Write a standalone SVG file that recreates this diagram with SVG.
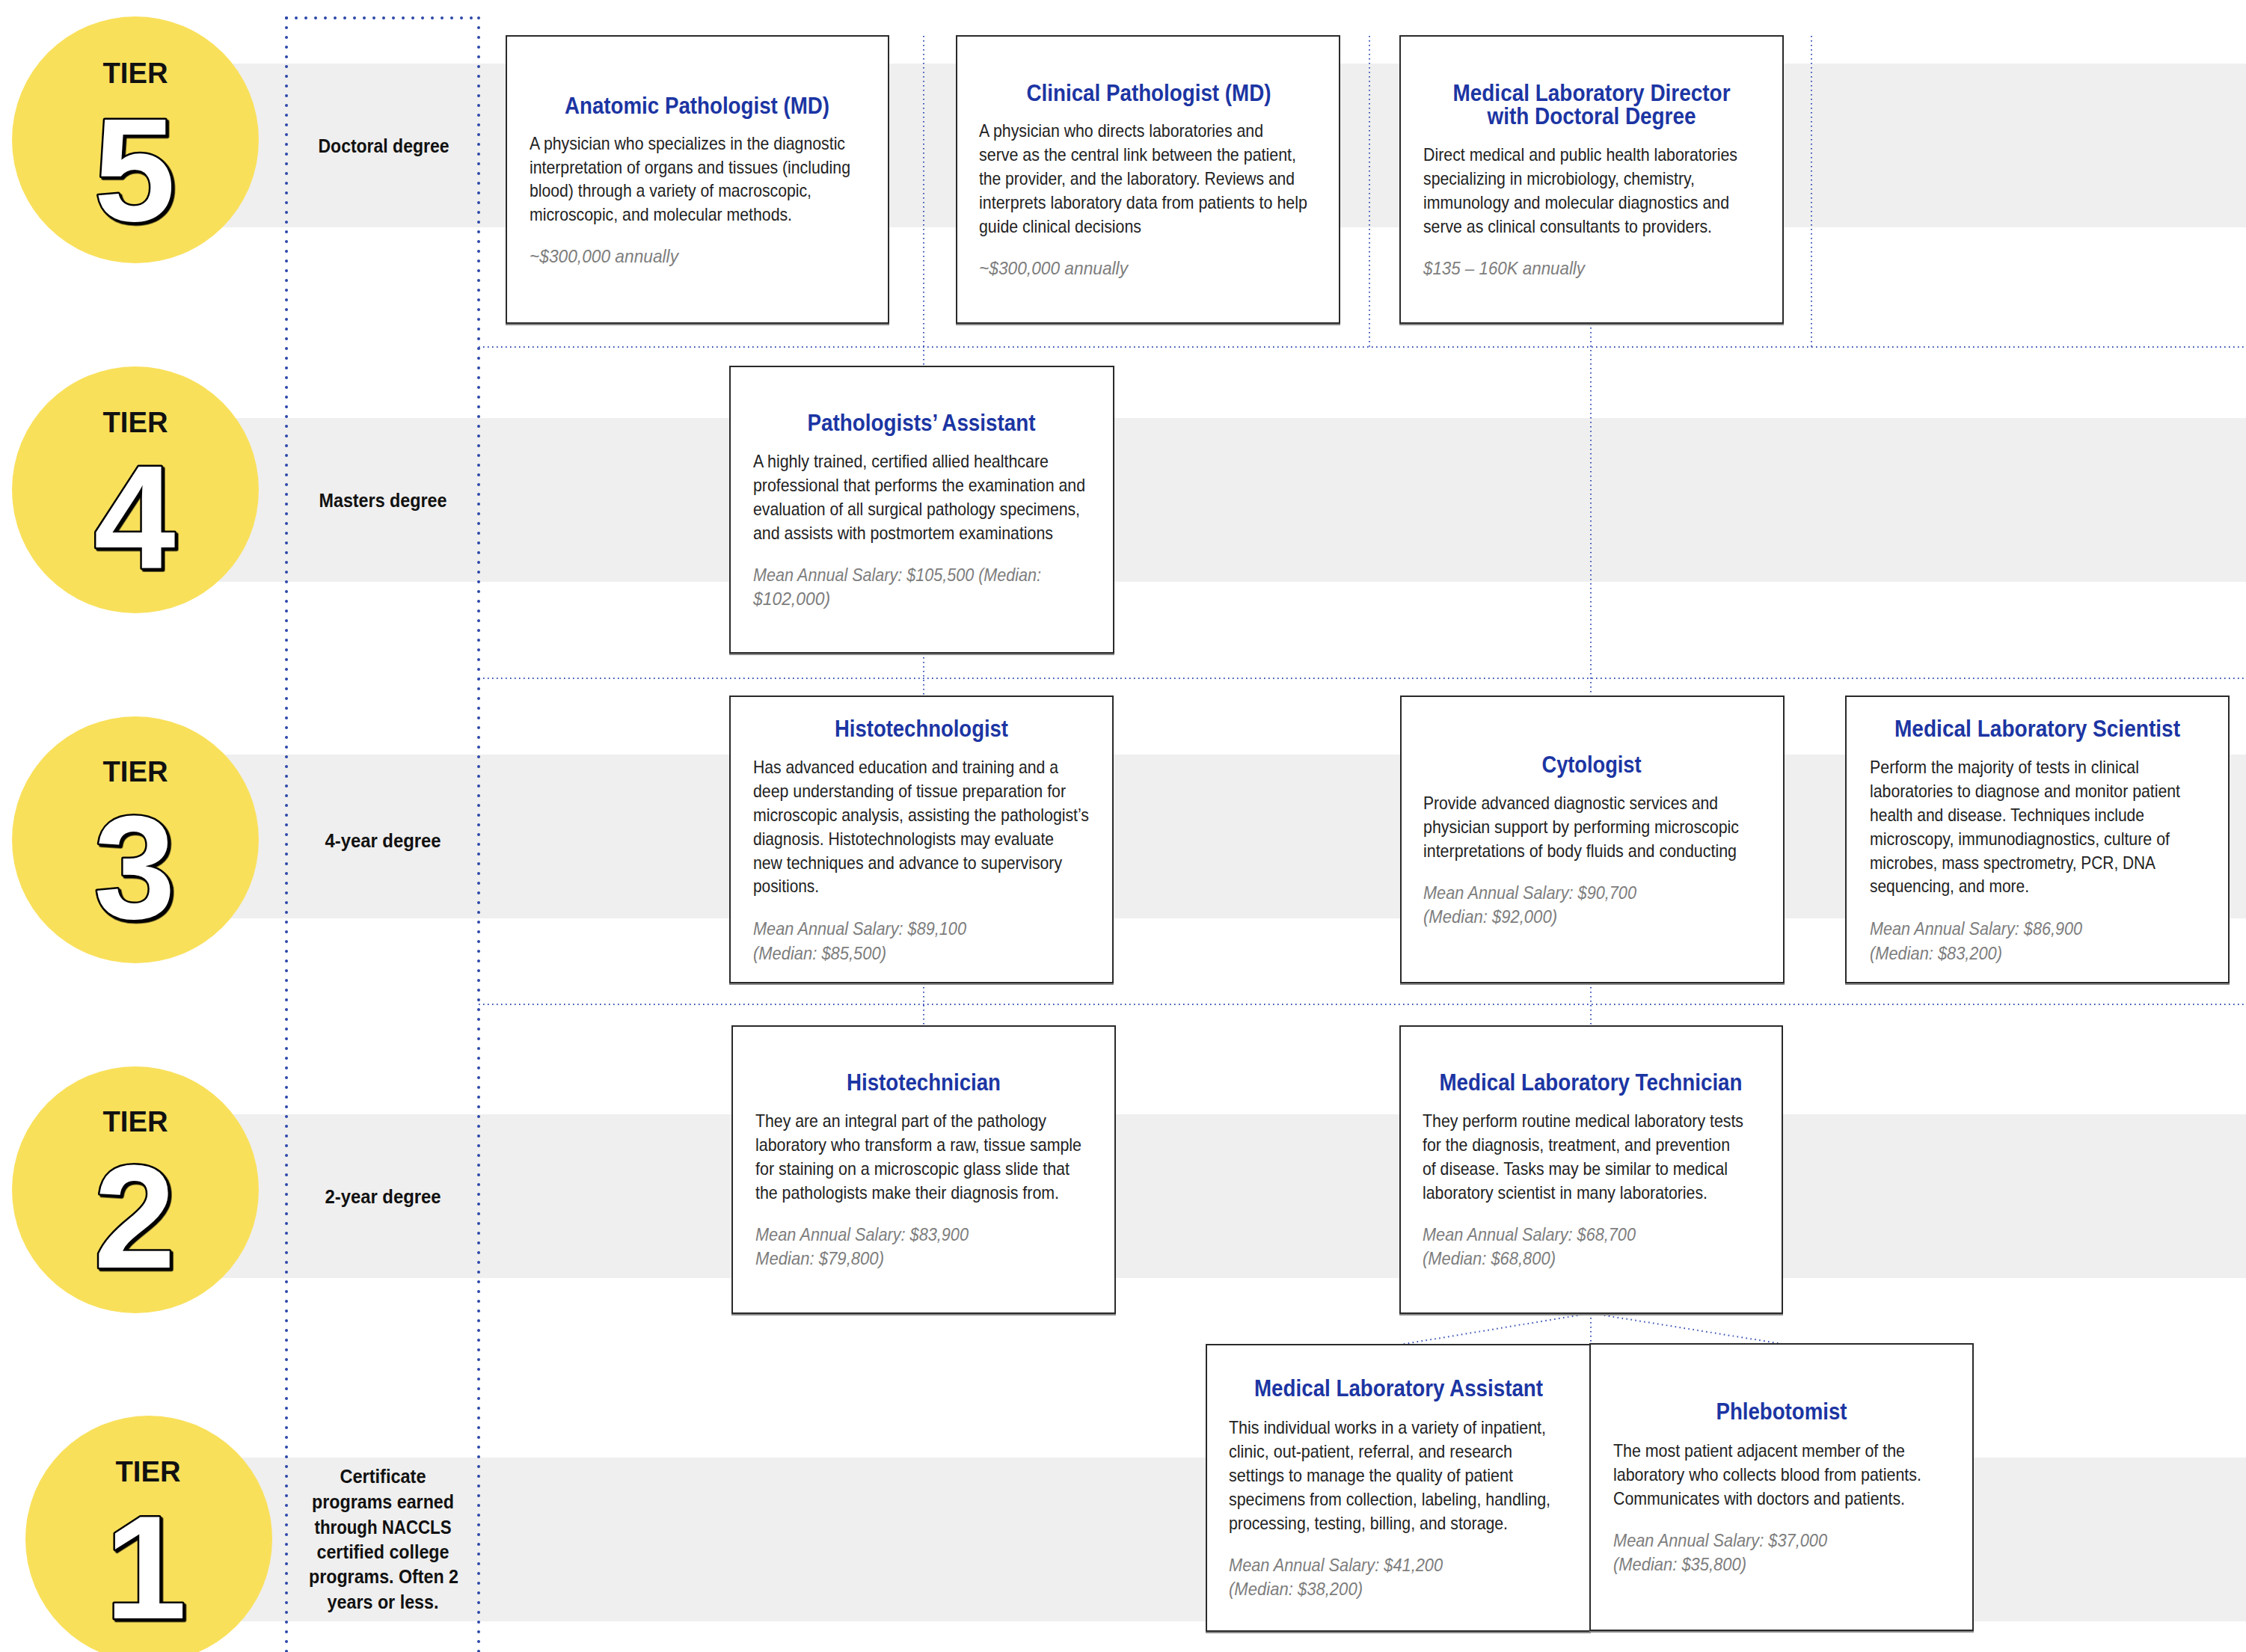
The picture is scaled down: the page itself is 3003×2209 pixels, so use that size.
<svg xmlns="http://www.w3.org/2000/svg" width="3003" height="2209" viewBox="0 0 3003 2209">
<defs>
<filter id="numShadow" x="-20%" y="-20%" width="140%" height="140%">
<feDropShadow dx="2.5" dy="2.5" stdDeviation="0" flood-color="#000" flood-opacity="1"/>
</filter>
</defs>
<style>
.bg{fill:#ffffff}
.band{fill:#efefef}
.circ{fill:#f9e05b}
.tier{font-family:"Liberation Sans",Arial,sans-serif;font-weight:bold;font-size:38px;fill:#111;text-anchor:middle}
.num{font-family:"Liberation Sans",Arial,sans-serif;font-weight:bold;font-size:196px;fill:#fff;stroke:#000;stroke-width:5;paint-order:stroke;stroke-linejoin:round;text-anchor:middle;filter:url(#numShadow)}
.deg{font-family:"Liberation Sans",Arial,sans-serif;font-weight:bold;font-size:26px;fill:#111;text-anchor:middle}
.box{fill:#fff;stroke:#2a2a2a;stroke-width:2}
.shadow{fill:#8a8a8a}
.ttl{font-family:"Liberation Sans",Arial,sans-serif;font-weight:bold;font-size:32px;fill:#1c35a3;text-anchor:middle}
.txt{font-family:"Liberation Sans",Arial,sans-serif;font-size:24px;fill:#222}
.sal{font-family:"Liberation Sans",Arial,sans-serif;font-style:italic;font-size:24px;fill:#7d7d7d}
.guide{stroke:#2b47a8;stroke-width:4;stroke-dasharray:0 13;stroke-linecap:round;fill:none}
.dot{stroke:#3550b5;stroke-width:2;stroke-dasharray:1.6 4.4;fill:none}
</style>
<rect class="bg" x="0" y="0" width="3003" height="2209"/>
<g id="bands">
<rect class="band" x="181" y="85" width="2822" height="219"/>
<rect class="band" x="181" y="559" width="2822" height="219"/>
<rect class="band" x="181" y="1009" width="2822" height="219"/>
<rect class="band" x="181" y="1490" width="2822" height="219"/>
<rect class="band" x="199" y="1949" width="2804" height="219"/>
</g>
<g id="tier5">
<circle class="circ" cx="181" cy="187" r="165"/>
<text class="tier" x="181" y="111" textLength="87" lengthAdjust="spacingAndGlyphs">TIER</text>
<text class="num" x="180" y="295">5</text>
<text class="deg" x="513" y="204" textLength="175" lengthAdjust="spacingAndGlyphs">Doctoral degree</text>
</g>
<g id="tier4">
<circle class="circ" cx="181" cy="655" r="165"/>
<text class="tier" x="181" y="578" textLength="87" lengthAdjust="spacingAndGlyphs">TIER</text>
<text class="num" x="180" y="760">4</text>
<text class="deg" x="512" y="678" textLength="171" lengthAdjust="spacingAndGlyphs">Masters degree</text>
</g>
<g id="tier3">
<circle class="circ" cx="181" cy="1123" r="165"/>
<text class="tier" x="181" y="1045" textLength="87" lengthAdjust="spacingAndGlyphs">TIER</text>
<text class="num" x="180" y="1228">3</text>
<text class="deg" x="512" y="1133" textLength="155" lengthAdjust="spacingAndGlyphs">4-year degree</text>
</g>
<g id="tier2">
<circle class="circ" cx="181" cy="1591" r="165"/>
<text class="tier" x="181" y="1513" textLength="87" lengthAdjust="spacingAndGlyphs">TIER</text>
<text class="num" x="180" y="1695">2</text>
<text class="deg" x="512" y="1609" textLength="155" lengthAdjust="spacingAndGlyphs">2-year degree</text>
</g>
<g id="tier1">
<circle class="circ" cx="199" cy="2058" r="165"/>
<text class="tier" x="198" y="1981" textLength="87" lengthAdjust="spacingAndGlyphs">TIER</text>
<text class="num" x="195" y="2164">1</text>
<text class="deg" x="512" y="1983" textLength="115" lengthAdjust="spacingAndGlyphs">Certificate</text>
<text class="deg" x="512" y="2017" textLength="190" lengthAdjust="spacingAndGlyphs">programs earned</text>
<text class="deg" x="512" y="2051" textLength="183" lengthAdjust="spacingAndGlyphs">through NACCLS</text>
<text class="deg" x="512" y="2084" textLength="177" lengthAdjust="spacingAndGlyphs">certified college</text>
<text class="deg" x="513" y="2117" textLength="200" lengthAdjust="spacingAndGlyphs">programs. Often 2</text>
<text class="deg" x="512" y="2151" textLength="149" lengthAdjust="spacingAndGlyphs">years or less.</text>
</g>
<g id="connectors">
<line class="guide" x1="383" y1="24" x2="383" y2="2209"/>
<line class="guide" x1="640" y1="24" x2="640" y2="2209"/>
<line class="guide" x1="383" y1="24" x2="640" y2="24"/>
<line class="dot" x1="640" y1="464" x2="3003" y2="464"/>
<line class="dot" x1="640" y1="907" x2="3003" y2="907"/>
<line class="dot" x1="640" y1="1343" x2="3003" y2="1343"/>
<line class="dot" x1="1235" y1="48" x2="1235" y2="490"/>
<line class="dot" x1="1235" y1="873" x2="1235" y2="931"/>
<line class="dot" x1="1235" y1="1314" x2="1235" y2="1372"/>
<line class="dot" x1="1831" y1="48" x2="1831" y2="464"/>
<line class="dot" x1="2422" y1="48" x2="2422" y2="464"/>
<line class="dot" x1="2127" y1="432" x2="2127" y2="931"/>
<line class="dot" x1="2127" y1="1314" x2="2127" y2="1372"/>
<line class="dot" x1="2127" y1="1756" x2="2127" y2="1798"/>
<line class="dot" x1="2127" y1="1756" x2="1872" y2="1798"/>
<line class="dot" x1="2127" y1="1756" x2="2383" y2="1797"/>
</g>
<g id="anatomic-pathologist">
<rect class="shadow" x="676" y="48" width="513" height="387"/>
<rect class="box" x="677" y="48" width="511" height="384"/>
<text class="ttl" x="932" y="152" textLength="354" lengthAdjust="spacingAndGlyphs">Anatomic Pathologist (MD)</text>
<text class="txt" x="708" y="200" textLength="422" lengthAdjust="spacingAndGlyphs">A physician who specializes in the diagnostic</text>
<text class="txt" x="708" y="232" textLength="429" lengthAdjust="spacingAndGlyphs">interpretation of organs and tissues (including</text>
<text class="txt" x="708" y="263" textLength="377" lengthAdjust="spacingAndGlyphs">blood) through a variety of macroscopic,</text>
<text class="txt" x="708" y="295" textLength="351" lengthAdjust="spacingAndGlyphs">microscopic, and molecular methods.</text>
<text class="sal" x="708" y="351" textLength="199" lengthAdjust="spacingAndGlyphs">~$300,000 annually</text>
</g>
<g id="clinical-pathologist">
<rect class="shadow" x="1278" y="48" width="514" height="387"/>
<rect class="box" x="1279" y="48" width="512" height="384"/>
<text class="ttl" x="1536" y="135" textLength="327" lengthAdjust="spacingAndGlyphs">Clinical Pathologist (MD)</text>
<text class="txt" x="1309" y="183" textLength="380" lengthAdjust="spacingAndGlyphs">A physician who directs laboratories and</text>
<text class="txt" x="1309" y="215" textLength="424" lengthAdjust="spacingAndGlyphs">serve as the central link between the patient,</text>
<text class="txt" x="1309" y="247" textLength="422" lengthAdjust="spacingAndGlyphs">the provider, and the laboratory. Reviews and</text>
<text class="txt" x="1309" y="279" textLength="439" lengthAdjust="spacingAndGlyphs">interprets laboratory data from patients to help</text>
<text class="txt" x="1309" y="311" textLength="217" lengthAdjust="spacingAndGlyphs">guide clinical decisions</text>
<text class="sal" x="1309" y="367" textLength="199" lengthAdjust="spacingAndGlyphs">~$300,000 annually</text>
</g>
<g id="medical-laboratory-director">
<rect class="shadow" x="1871" y="48" width="514" height="387"/>
<rect class="box" x="1872" y="48" width="512" height="384"/>
<text class="ttl" x="2128" y="135" textLength="371" lengthAdjust="spacingAndGlyphs">Medical Laboratory Director</text>
<text class="ttl" x="2128" y="166" textLength="279" lengthAdjust="spacingAndGlyphs">with Doctoral Degree</text>
<text class="txt" x="1903" y="215" textLength="420" lengthAdjust="spacingAndGlyphs">Direct medical and public health laboratories</text>
<text class="txt" x="1903" y="247" textLength="363" lengthAdjust="spacingAndGlyphs">specializing in microbiology, chemistry,</text>
<text class="txt" x="1903" y="279" textLength="409" lengthAdjust="spacingAndGlyphs">immunology and molecular diagnostics and</text>
<text class="txt" x="1903" y="311" textLength="386" lengthAdjust="spacingAndGlyphs">serve as clinical consultants to providers.</text>
<text class="sal" x="1903" y="367" textLength="216" lengthAdjust="spacingAndGlyphs">$135 – 160K annually</text>
</g>
<g id="pathologists-assistant">
<rect class="shadow" x="975" y="490" width="515" height="386"/>
<rect class="box" x="976" y="490" width="513" height="383"/>
<text class="ttl" x="1232" y="576" textLength="305" lengthAdjust="spacingAndGlyphs">Pathologists’ Assistant</text>
<text class="txt" x="1007" y="625" textLength="395" lengthAdjust="spacingAndGlyphs">A highly trained, certified allied healthcare</text>
<text class="txt" x="1007" y="657" textLength="444" lengthAdjust="spacingAndGlyphs">professional that performs the examination and</text>
<text class="txt" x="1007" y="689" textLength="437" lengthAdjust="spacingAndGlyphs">evaluation of all surgical pathology specimens,</text>
<text class="txt" x="1007" y="721" textLength="401" lengthAdjust="spacingAndGlyphs">and assists with postmortem examinations</text>
<text class="sal" x="1007" y="777" textLength="385" lengthAdjust="spacingAndGlyphs">Mean Annual Salary: $105,500 (Median:</text>
<text class="sal" x="1007" y="809" textLength="103" lengthAdjust="spacingAndGlyphs">$102,000)</text>
</g>
<g id="histotechnologist">
<rect class="shadow" x="975" y="931" width="514" height="386"/>
<rect class="box" x="976" y="931" width="512" height="383"/>
<text class="ttl" x="1232" y="985" textLength="232" lengthAdjust="spacingAndGlyphs">Histotechnologist</text>
<text class="txt" x="1007" y="1034" textLength="408" lengthAdjust="spacingAndGlyphs">Has advanced education and training and a</text>
<text class="txt" x="1007" y="1066" textLength="418" lengthAdjust="spacingAndGlyphs">deep understanding of tissue preparation for</text>
<text class="txt" x="1007" y="1098" textLength="449" lengthAdjust="spacingAndGlyphs">microscopic analysis, assisting the pathologist’s</text>
<text class="txt" x="1007" y="1130" textLength="402" lengthAdjust="spacingAndGlyphs">diagnosis. Histotechnologists may evaluate</text>
<text class="txt" x="1007" y="1162" textLength="413" lengthAdjust="spacingAndGlyphs">new techniques and advance to supervisory</text>
<text class="txt" x="1007" y="1193" textLength="88" lengthAdjust="spacingAndGlyphs">positions.</text>
<text class="sal" x="1007" y="1250" textLength="285" lengthAdjust="spacingAndGlyphs">Mean Annual Salary: $89,100</text>
<text class="sal" x="1007" y="1283" textLength="178" lengthAdjust="spacingAndGlyphs">(Median: $85,500)</text>
</g>
<g id="cytologist">
<rect class="shadow" x="1872" y="931" width="514" height="386"/>
<rect class="box" x="1873" y="931" width="512" height="383"/>
<text class="ttl" x="2128" y="1033" textLength="133" lengthAdjust="spacingAndGlyphs">Cytologist</text>
<text class="txt" x="1903" y="1082" textLength="394" lengthAdjust="spacingAndGlyphs">Provide advanced diagnostic services and</text>
<text class="txt" x="1903" y="1114" textLength="422" lengthAdjust="spacingAndGlyphs">physician support by performing microscopic</text>
<text class="txt" x="1903" y="1146" textLength="419" lengthAdjust="spacingAndGlyphs">interpretations of body fluids and conducting</text>
<text class="sal" x="1903" y="1202" textLength="285" lengthAdjust="spacingAndGlyphs">Mean Annual Salary: $90,700</text>
<text class="sal" x="1903" y="1234" textLength="179" lengthAdjust="spacingAndGlyphs">(Median: $92,000)</text>
</g>
<g id="medical-laboratory-scientist">
<rect class="shadow" x="2467" y="931" width="514" height="386"/>
<rect class="box" x="2468" y="931" width="512" height="383"/>
<text class="ttl" x="2724" y="985" textLength="382" lengthAdjust="spacingAndGlyphs">Medical Laboratory Scientist</text>
<text class="txt" x="2500" y="1034" textLength="360" lengthAdjust="spacingAndGlyphs">Perform the majority of tests in clinical</text>
<text class="txt" x="2500" y="1066" textLength="415" lengthAdjust="spacingAndGlyphs">laboratories to diagnose and monitor patient</text>
<text class="txt" x="2500" y="1098" textLength="367" lengthAdjust="spacingAndGlyphs">health and disease. Techniques include</text>
<text class="txt" x="2500" y="1130" textLength="401" lengthAdjust="spacingAndGlyphs">microscopy, immunodiagnostics, culture of</text>
<text class="txt" x="2500" y="1162" textLength="382" lengthAdjust="spacingAndGlyphs">microbes, mass spectrometry, PCR, DNA</text>
<text class="txt" x="2500" y="1193" textLength="213" lengthAdjust="spacingAndGlyphs">sequencing, and more.</text>
<text class="sal" x="2500" y="1250" textLength="284" lengthAdjust="spacingAndGlyphs">Mean Annual Salary: $86,900</text>
<text class="sal" x="2500" y="1283" textLength="177" lengthAdjust="spacingAndGlyphs">(Median: $83,200)</text>
</g>
<g id="histotechnician">
<rect class="shadow" x="978" y="1372" width="514" height="387"/>
<rect class="box" x="979" y="1372" width="512" height="384"/>
<text class="ttl" x="1235" y="1458" textLength="206" lengthAdjust="spacingAndGlyphs">Histotechnician</text>
<text class="txt" x="1010" y="1507" textLength="389" lengthAdjust="spacingAndGlyphs">They are an integral part of the pathology</text>
<text class="txt" x="1010" y="1539" textLength="436" lengthAdjust="spacingAndGlyphs">laboratory who transform a raw, tissue sample</text>
<text class="txt" x="1010" y="1571" textLength="420" lengthAdjust="spacingAndGlyphs">for staining on a microscopic glass slide that</text>
<text class="txt" x="1010" y="1603" textLength="406" lengthAdjust="spacingAndGlyphs">the pathologists make their diagnosis from.</text>
<text class="sal" x="1010" y="1659" textLength="285" lengthAdjust="spacingAndGlyphs">Mean Annual Salary: $83,900</text>
<text class="sal" x="1010" y="1691" textLength="172" lengthAdjust="spacingAndGlyphs">Median: $79,800)</text>
</g>
<g id="medical-laboratory-technician">
<rect class="shadow" x="1871" y="1372" width="513" height="387"/>
<rect class="box" x="1872" y="1372" width="511" height="384"/>
<text class="ttl" x="2127" y="1458" textLength="405" lengthAdjust="spacingAndGlyphs">Medical Laboratory Technician</text>
<text class="txt" x="1902" y="1507" textLength="429" lengthAdjust="spacingAndGlyphs">They perform routine medical laboratory tests</text>
<text class="txt" x="1902" y="1539" textLength="411" lengthAdjust="spacingAndGlyphs">for the diagnosis, treatment, and prevention</text>
<text class="txt" x="1902" y="1571" textLength="408" lengthAdjust="spacingAndGlyphs">of disease. Tasks may be similar to medical</text>
<text class="txt" x="1902" y="1603" textLength="381" lengthAdjust="spacingAndGlyphs">laboratory scientist in many laboratories.</text>
<text class="sal" x="1902" y="1659" textLength="285" lengthAdjust="spacingAndGlyphs">Mean Annual Salary: $68,700</text>
<text class="sal" x="1902" y="1691" textLength="178" lengthAdjust="spacingAndGlyphs">(Median: $68,800)</text>
</g>
<g id="medical-laboratory-assistant">
<rect class="shadow" x="1612" y="1798" width="515" height="386"/>
<rect class="box" x="1613" y="1798" width="513" height="383"/>
<text class="ttl" x="1870" y="1867" textLength="386" lengthAdjust="spacingAndGlyphs">Medical Laboratory Assistant</text>
<text class="txt" x="1643" y="1917" textLength="424" lengthAdjust="spacingAndGlyphs">This individual works in a variety of inpatient,</text>
<text class="txt" x="1643" y="1949" textLength="379" lengthAdjust="spacingAndGlyphs">clinic, out-patient, referral, and research</text>
<text class="txt" x="1643" y="1981" textLength="380" lengthAdjust="spacingAndGlyphs">settings to manage the quality of patient</text>
<text class="txt" x="1643" y="2013" textLength="430" lengthAdjust="spacingAndGlyphs">specimens from collection, labeling, handling,</text>
<text class="txt" x="1643" y="2045" textLength="373" lengthAdjust="spacingAndGlyphs">processing, testing, billing, and storage.</text>
<text class="sal" x="1643" y="2101" textLength="286" lengthAdjust="spacingAndGlyphs">Mean Annual Salary: $41,200</text>
<text class="sal" x="1643" y="2133" textLength="179" lengthAdjust="spacingAndGlyphs">(Median: $38,200)</text>
</g>
<g id="phlebotomist">
<rect class="shadow" x="2125" y="1797" width="514" height="386"/>
<rect class="box" x="2126" y="1797" width="512" height="383"/>
<text class="ttl" x="2382" y="1898" textLength="175" lengthAdjust="spacingAndGlyphs">Phlebotomist</text>
<text class="txt" x="2157" y="1948" textLength="390" lengthAdjust="spacingAndGlyphs">The most patient adjacent member of the</text>
<text class="txt" x="2157" y="1980" textLength="412" lengthAdjust="spacingAndGlyphs">laboratory who collects blood from patients.</text>
<text class="txt" x="2157" y="2012" textLength="390" lengthAdjust="spacingAndGlyphs">Communicates with doctors and patients.</text>
<text class="sal" x="2157" y="2068" textLength="286" lengthAdjust="spacingAndGlyphs">Mean Annual Salary: $37,000</text>
<text class="sal" x="2157" y="2100" textLength="178" lengthAdjust="spacingAndGlyphs">(Median: $35,800)</text>
</g>
</svg>
